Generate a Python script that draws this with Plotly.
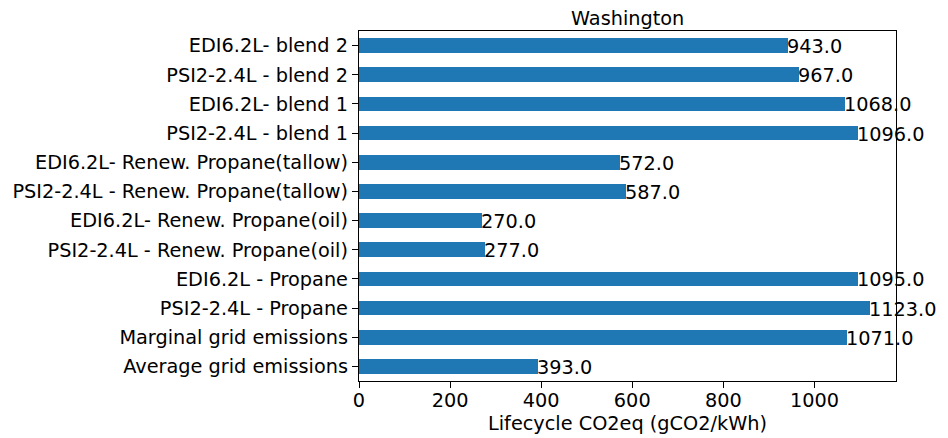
import plotly.graph_objects as go

categories = [
    "Average grid emissions",
    "Marginal grid emissions",
    "PSI2-2.4L - Propane",
    "EDI6.2L - Propane",
    "PSI2-2.4L - Renew. Propane(oil)",
    "EDI6.2L- Renew. Propane(oil)",
    "PSI2-2.4L - Renew. Propane(tallow)",
    "EDI6.2L- Renew. Propane(tallow)",
    "PSI2-2.4L - blend 1",
    "EDI6.2L- blend 1",
    "PSI2-2.4L - blend 2",
    "EDI6.2L- blend 2",
]
values = [393.0, 1071.0, 1123.0, 1095.0, 277.0, 270.0, 587.0, 572.0, 1096.0, 1068.0, 967.0, 943.0]
x_ticks = [0, 200, 400, 600, 800, 1000]
title_text = "Washington"
x_title = "Lifecycle CO2eq (gCO2/kWh)"

positions = list(range(len(categories)))
FONT = dict(family="DejaVu Sans", size=19.3, color="#000000")

fig = go.Figure()
fig.add_trace(go.Bar(
    x=values,
    y=positions,
    orientation="h",
    width=0.5,
    marker=dict(color="#1f77b4", line=dict(width=0)),
    hoverinfo="x+y",
))

annotations = []
for p, v in zip(positions, values):
    annotations.append(dict(
        x=v, y=p, xref="x", yref="y",
        text=f"{v:.1f}", showarrow=False,
        xanchor="left", yanchor="middle",
        font=FONT, xshift=-2, yshift=-1, borderpad=0,
    ))
annotations.append(dict(
    x=0.5, y=1, xref="paper", yref="paper",
    text=title_text, showarrow=False,
    xanchor="center", yanchor="bottom", yshift=0, borderpad=0,
    font=FONT,
))

fig.update_layout(
    width=940, height=430,
    margin=dict(l=351, r=52, t=23, b=57),
    paper_bgcolor="white", plot_bgcolor="white",
    font=FONT,
    showlegend=False,
    bargap=0,
    annotations=annotations,
    xaxis=dict(
        range=[0, max(values) * 1.05],
        tickmode="array", tickvals=x_ticks,
        ticktext=[str(t) for t in x_ticks],
        ticks="outside", ticklen=6, tickwidth=1.3, tickcolor="#000",
        ticklabelstandoff=-4,
        showline=True, linecolor="#000", linewidth=1.3, mirror=True,
        showgrid=False, zeroline=False, automargin=False,
        title=dict(text=x_title, font=FONT, standoff=3),
        tickfont=FONT,
    ),
    yaxis=dict(
        range=[-0.5, len(categories) - 0.5],
        tickmode="array", tickvals=positions, ticktext=categories,
        ticks="outside", ticklen=6, tickwidth=1.3, tickcolor="#000",
        showline=True, linecolor="#000", linewidth=1.3, mirror=True,
        showgrid=False, zeroline=False, automargin=False,
        tickfont=FONT,
    ),
)

fig.write_html("out.html")
